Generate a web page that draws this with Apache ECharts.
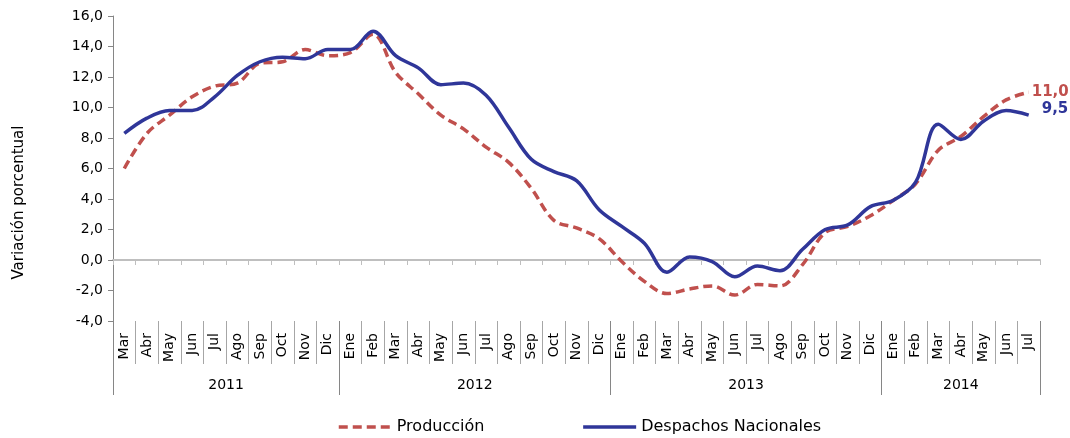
<!DOCTYPE HTML>
<html>
	<head>
		<meta http-equiv="Content-type" content="text/html; charset=UTF-8" />
		<script type="text/javascript" src="https://cdn.jsdelivr.net/npm/echarts@6/dist/echarts.min.js"></script>
		<style>
			html, body { margin: 0; padding: 0; background: #fff; }
		</style>
		<script type="text/javascript">
			// meses de mar-2011 a jul-2014
			var meses = ['Mar','Abr','May','Jun','Jul','Ago','Sep','Oct','Nov','Dic',
				'Ene','Feb','Mar','Abr','May','Jun','Jul','Ago','Sep','Oct','Nov','Dic',
				'Ene','Feb','Mar','Abr','May','Jun','Jul','Ago','Sep','Oct','Nov','Dic',
				'Ene','Feb','Mar','Abr','May','Jun','Jul'];
			var anos = ['2011', '2012', '2013', '2014'];
			var mesesPorAno = [10, 12, 12, 7];
			var yTicks = [-4, 16, 2];

			var produccion = [6.0, 8.3, 9.5, 10.7, 11.4, 11.6, 12.9, 13.0, 13.8, 13.4,
				13.6, 14.8, 12.3, 10.9, 9.5, 8.6, 7.4, 6.4, 4.7, 2.6, 2.1, 1.4,
				-0.1, -1.4, -2.2, -1.9, -1.7, -2.3, -1.6, -1.7, -0.3, 1.8, 2.2, 2.9,
				3.9, 5.0, 7.2, 8.1, 9.4, 10.5, 11.0];
			var despachos = [8.3, 9.3, 9.8, 9.8, 10.7, 12.1, 13.0, 13.3, 13.2, 13.8,
				13.8, 15.0, 13.4, 12.6, 11.5, 11.6, 10.8, 8.7, 6.6, 5.8, 5.2, 3.3,
				2.2, 1.1, -0.8, 0.2, -0.1, -1.1, -0.4, -0.7, 0.7, 2.0, 2.3, 3.5,
				3.9, 5.1, 8.9, 7.9, 9.1, 9.8, 9.5];

			// limites y centros de cada año sobre el eje de meses
			var limites = [0], centros = [];
			mesesPorAno.forEach(function (n, i) {
				centros.push(limites[i] + n / 2);
				limites.push(limites[i] + n);
			});

			function coma(v) { return v.toFixed(1).replace('.', ','); }

			var fuente = 'DejaVu Sans';

			var option = {
				animation: false,
				textStyle: { fontFamily: fuente },
				grid: { left: 113, right: 30, top: 16, bottom: 117 },
				legend: {
					left: 332, top: 414,
					itemWidth: 53, itemHeight: 14, itemGap: 97,
					itemStyle: { opacity: 0 },
					lineStyle: { width: 3.5 },
					textStyle: { fontFamily: fuente, fontSize: 16, color: '#000' },
					data: ['Producción', 'Despachos Nacionales']
				},
				xAxis: [
					{	// linea del cero
						type: 'category', data: meses,
						axisLine: { show: true, onZero: true, lineStyle: { color: '#BFBFBF', width: 2 } },
						axisTick: { show: true, length: 5, interval: 0, lineStyle: { color: '#BFBFBF' } },
						axisLabel: { show: false }
					},
					{	// meses
						type: 'category', data: meses, position: 'bottom',
						axisLine: { show: false, onZero: false },
						axisTick: { show: true, length: 43, interval: 0, lineStyle: { color: '#A6A6A6' } },
						axisLabel: { interval: 0, rotate: 90, margin: 12, fontSize: 14, color: '#000', fontFamily: fuente }
					},
					{	// separadores de año
						type: 'category', data: meses, position: 'bottom',
						axisLine: { show: false, onZero: false },
						axisTick: {
							show: true, length: 74,
							interval: function (i) { return limites.indexOf(i) >= 0; },
							lineStyle: { color: '#868686' }
						},
						axisLabel: { show: false }
					},
					{	// años
						type: 'value', min: 0, max: meses.length, interval: 0.5, position: 'bottom',
						axisLine: { show: false, onZero: false },
						axisTick: { show: false },
						splitLine: { show: false },
						axisLabel: {
							margin: 57, fontSize: 14, color: '#000', fontFamily: fuente,
							formatter: function (v) {
								for (var i = 0; i < centros.length; i++) {
									if (Math.abs(v - centros[i]) < 0.01) return anos[i];
								}
								return '';
							}
						}
					}
				],
				yAxis: {
					type: 'value', min: yTicks[0], max: yTicks[1], interval: yTicks[2],
					name: 'Variación porcentual', nameLocation: 'middle', nameGap: 86,
					nameTextStyle: { fontSize: 15, color: '#000', fontFamily: fuente, padding: [0, 68, 0, 0] },
					axisLine: { show: true, lineStyle: { color: '#868686' } },
					axisTick: { show: true, length: 5, lineStyle: { color: '#868686' } },
					splitLine: { show: false },
					axisLabel: { formatter: coma, fontSize: 14, color: '#000', margin: 10, fontFamily: fuente }
				},
				series: [
					{
						name: 'Producción', type: 'line', data: produccion,
						smooth: 0.35, symbol: 'none',
						lineStyle: { color: '#C0504D', width: 3.5, type: [9, 5] },
						itemStyle: { color: '#C0504D' },
						endLabel: {
							show: true, distance: 3,
							formatter: function (p) { return coma(p.value); },
							color: '#C0504D', fontWeight: 'bold', fontSize: 15, fontFamily: fuente
						}
					},
					{
						name: 'Despachos Nacionales', type: 'line', data: despachos,
						smooth: 0.35, symbol: 'none',
						lineStyle: { color: '#2F3699', width: 3.5 },
						itemStyle: { color: '#2F3699' },
						endLabel: {
							show: true, distance: 13, offset: [0, -6],
							formatter: function (p) { return coma(p.value); },
							color: '#2F3699', fontWeight: 'bold', fontSize: 15, fontFamily: fuente
						}
					}
				]
			};

			window.onload = function () {
				var myChart = echarts.init(document.getElementById('div_1'));
				myChart.setOption(option);
			};
		</script>
	</head>
	<body>
		<div id="div_1" style="width: 1070px;height:438px;"></div>
	</body>
</html>
